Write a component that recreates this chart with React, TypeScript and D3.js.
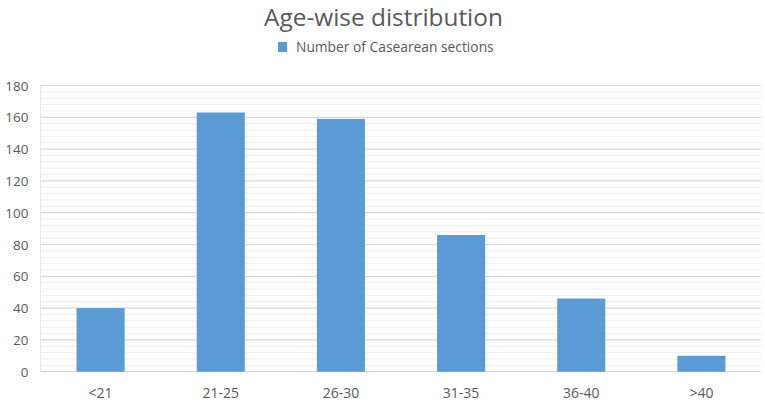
import React from "react";
import * as d3 from "d3";

const categories: string[] = ["<21", "21-25", "26-30", "31-35", "36-40", ">40"];
const caesareanCounts: number[] = [40, 163, 159, 86, 46, 10];
const yTicks: number[] = [0, 20, 40, 60, 80, 100, 120, 140, 160, 180];
const seriesName = "Number of Casearean sections";
const titleText = "Age-wise distribution";

const W = 765;
const H = 404;
const FONT = "'Open Sans', 'Noto Sans', sans-serif";
const TEXT = "#595959";
const BAR = "#5b9bd5";

export default function App() {
  const left = 40.5;
  const right = 761.5;
  const top = 85.5;
  const bottom = 371.7;

  const x = d3
    .scaleBand<string>()
    .domain(categories)
    .range([left, right])
    .paddingInner(0.6)
    .paddingOuter(0.3);
  const y = d3.scaleLinear().domain([0, 180]).range([bottom, top]);
  const minor = d3.range(0, 181, 4).filter((v) => v % 20 !== 0);
  const bw = x.bandwidth();

  return (
    <svg
      width={W}
      height={H}
      style={{ position: "absolute", left: 0, top: 0, display: "block", background: "#fff" }}
    >
      <rect x={0} y={0} width={W} height={H} fill="#fff" />
      <text x={383.5} y={26} textAnchor="middle" fontFamily={FONT} fontSize={24.4} fill={TEXT} fontWeight={400}>
        {titleText}
      </text>
      <rect x={278} y={42} width={9} height={10} fill={BAR} />
      <text x={296} y={52} fontFamily={FONT} fontSize={13.8} fill={TEXT}>
        {seriesName}
      </text>
      {minor.map((v) => (
        <line key={"m" + v} x1={left} x2={right} y1={y(v)} y2={y(v)} stroke="#efefef" strokeWidth={1} />
      ))}
      {yTicks.map((v) => (
        <line key={"g" + v} x1={left} x2={right} y1={y(v)} y2={y(v)} stroke="#d9d9d9" strokeWidth={1.2} />
      ))}
      <line x1={left} x2={left} y1={top} y2={bottom} stroke="#e6e6e6" strokeWidth={1} />
      {categories.map((c, i) => (
        <rect key={c} x={x(c)!} y={y(caesareanCounts[i])} width={bw} height={y(0) - y(caesareanCounts[i])} fill={BAR} />
      ))}
      {yTicks.map((v) => (
        <text key={"t" + v} x={28.5} y={y(v) + 5} textAnchor="end" fontFamily={FONT} fontSize={13.5} fill={TEXT}>
          {v}
        </text>
      ))}
      {categories.map((c) => (
        <text key={"x" + c} x={x(c)! + bw / 2} y={398} textAnchor="middle" fontFamily={FONT} fontSize={14} fill={TEXT}>
          {c}
        </text>
      ))}
    </svg>
  );
}
